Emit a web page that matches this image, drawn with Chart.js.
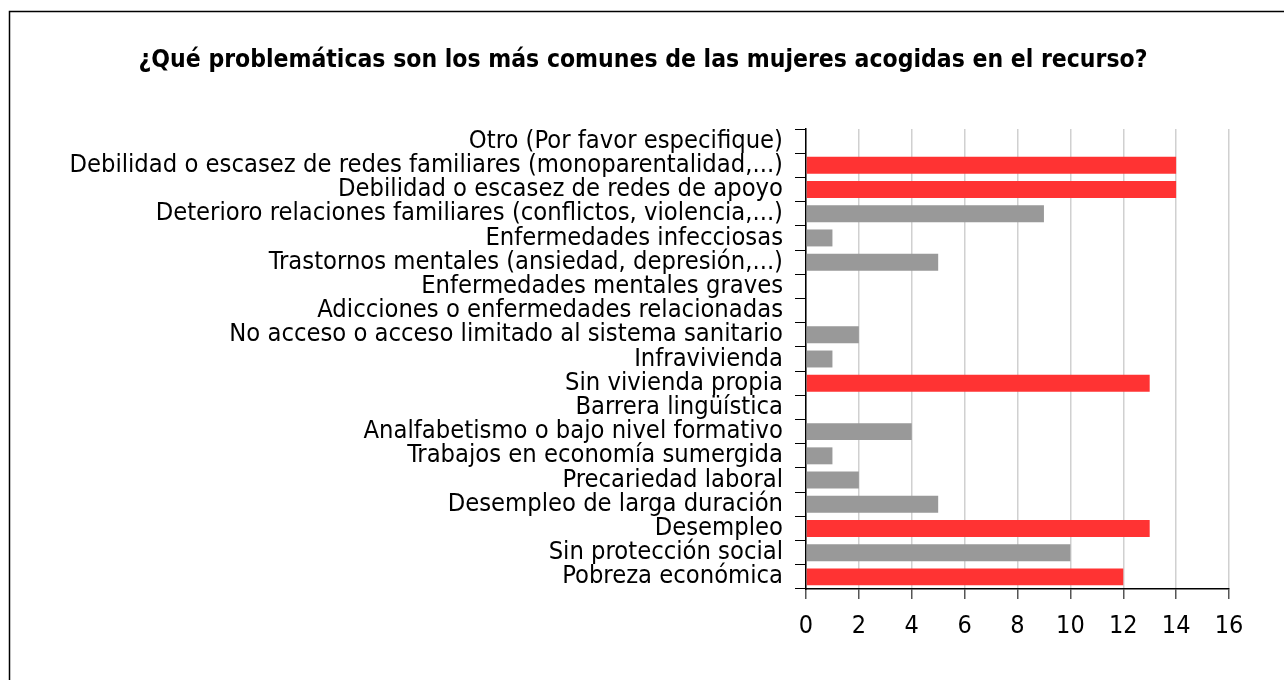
<!DOCTYPE html>
<html>
<head>
<meta charset="utf-8">
<script src="https://cdn.jsdelivr.net/npm/chart.js@4.4.1/dist/chart.umd.min.js"></script>
<style>
  html, body { margin: 0; padding: 0; background: #fff; }
  #wrap { width: 1284px; height: 680px; position: relative; }
</style>
</head>
<body>
<div id="wrap"><canvas id="chart" width="1284" height="680"></canvas></div>
<script>
const TITLE = "¿Qué problemáticas son los más comunes de las mujeres acogidas en el recurso?";
const categories = [
  "Otro (Por favor especifique)",
  "Debilidad o escasez de redes familiares (monoparentalidad,...)",
  "Debilidad o escasez de redes de apoyo",
  "Deterioro relaciones familiares (conflictos, violencia,...)",
  "Enfermedades infecciosas",
  "Trastornos mentales (ansiedad, depresión,...)",
  "Enfermedades mentales graves",
  "Adicciones o enfermedades relacionadas",
  "No acceso o acceso limitado al sistema sanitario",
  "Infravivienda",
  "Sin vivienda propia",
  "Barrera lingüística",
  "Analfabetismo o bajo nivel formativo",
  "Trabajos en economía sumergida",
  "Precariedad laboral",
  "Desempleo de larga duración",
  "Desempleo",
  "Sin protección social",
  "Pobreza económica",
];
const counts = [0, 14, 14, 9, 1, 5, 0, 0, 2, 1, 13, 0, 4, 1, 2, 5, 13, 10, 12];
const xTicks = [0, 2, 4, 6, 8, 10, 12, 14, 16];

const FONT = "Tahoma, 'DejaVu Sans Condensed', 'DejaVu Sans', sans-serif";
const RED = "#ff3333";
const GREY = "#999999";

// title + outer frame drawn by hand
const framePlugin = {
  id: "frame",
  afterDraw(chart) {
    const ctx = chart.ctx;
    ctx.save();
    ctx.strokeStyle = "#000";
    ctx.lineWidth = 1.5;
    ctx.beginPath();
    ctx.moveTo(9.5, 680);
    ctx.lineTo(9.5, 11.5);
    ctx.lineTo(1284, 11.5);
    ctx.stroke();
    ctx.fillStyle = "#000";
    ctx.font = "bold 24.5px " + FONT;
    ctx.textAlign = "center";
    ctx.textBaseline = "middle";
    ctx.fillText(TITLE, 643, 61);
    ctx.restore();
  },
};

new Chart(document.getElementById("chart"), {
  type: "bar",
  data: {
    labels: categories,
    datasets: [
      {
        data: counts,
        backgroundColor: (c) => (c.raw >= 12 ? RED : GREY),
        barPercentage: 0.7,
        categoryPercentage: 1,
      },
    ],
  },
  options: {
    indexAxis: "y",
    responsive: false,
    animation: false,
    layout: { padding: { top: 129, right: 55, left: 0, bottom: 0 } },
    plugins: { legend: { display: false }, tooltip: { enabled: false } },
    scales: {
      x: {
        min: 0,
        max: 16,
        afterBuildTicks: (s) => {
          s.ticks = xTicks.map((v) => ({ value: v }));
        },
        afterFit: (s) => {
          s.height = 91;
        },
        grid: {
          color: "#d0d0d0",
          lineWidth: 1.5,
          tickLength: 10,
          tickColor: "#555",
        },
        border: { color: "#000", width: 1.5 },
        ticks: { color: "#000", font: { family: FONT, size: 25 }, padding: 12 },
      },
      y: {
        offset: true,
        afterFit: (s) => {
          s.width = 806;
        },
        grid: {
          drawOnChartArea: false,
          offset: true,
          tickLength: 11,
          tickColor: "#000",
        },
        border: { color: "#000", width: 1.5 },
        ticks: {
          color: "#000",
          font: { family: FONT, size: 25.3 },
          padding: 12,
          autoSkip: false,
        },
      },
    },
  },
  plugins: [framePlugin],
});
</script>
</body>
</html>
